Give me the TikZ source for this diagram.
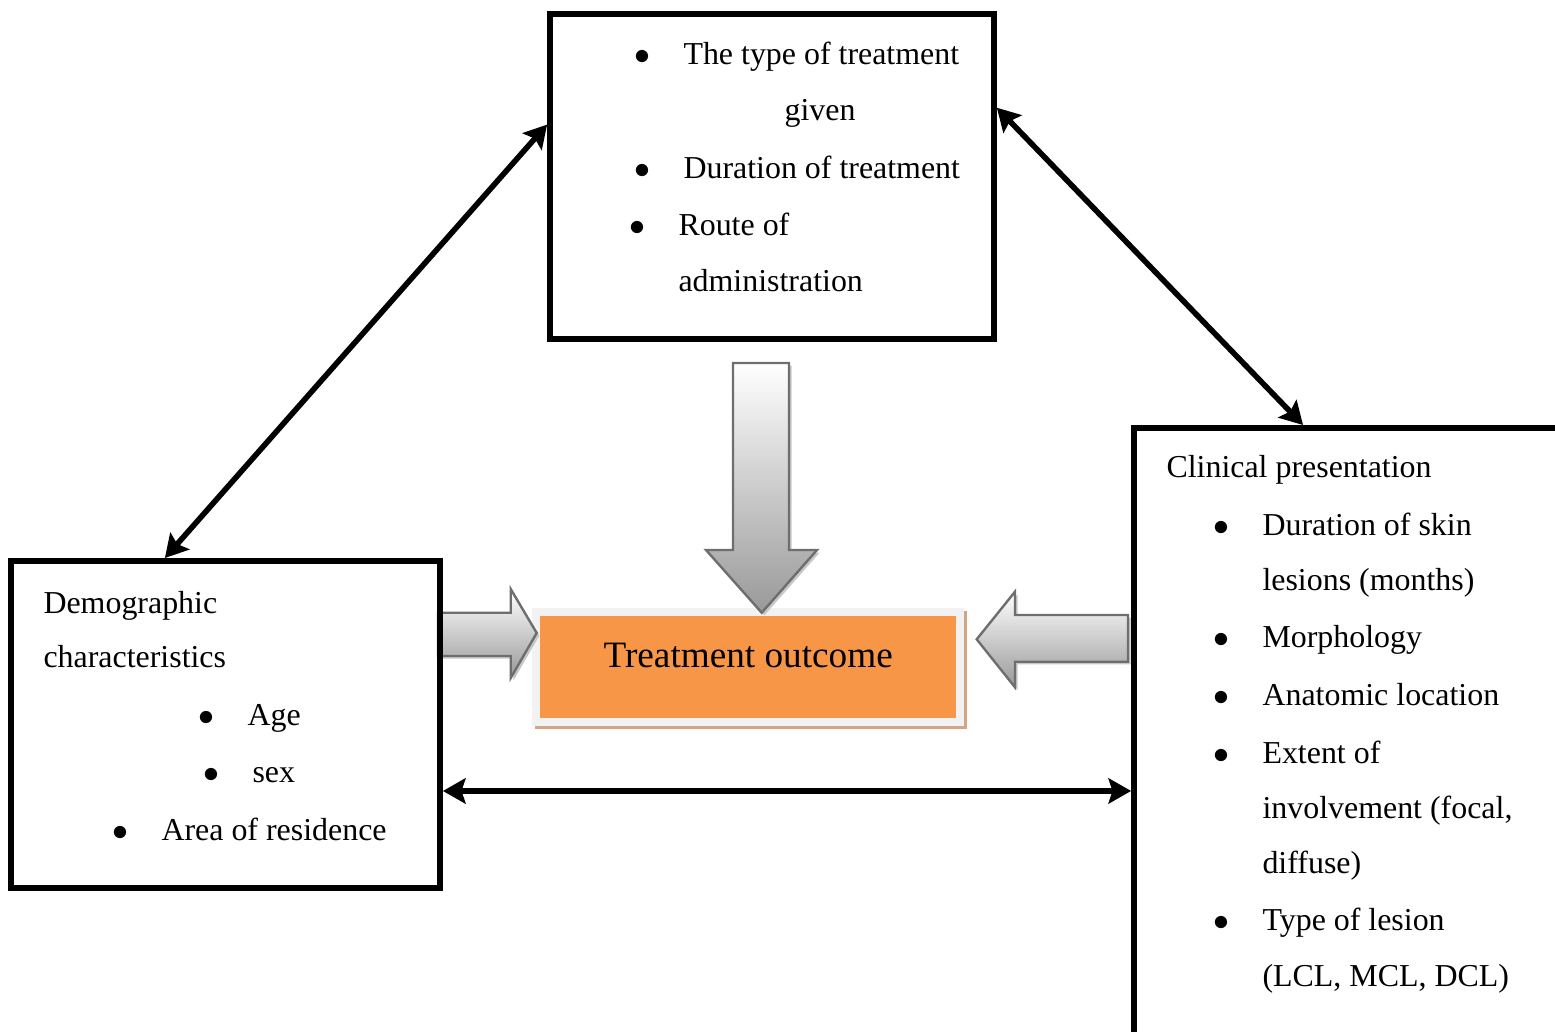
\documentclass[tikz,border=0pt]{standalone}
\usepackage{fontspec}
\setmainfont{Liberation Serif}
\usepackage{tikz}
\usetikzlibrary{arrows.meta,shadows}
\definecolor{outorange}{RGB}{247,150,70}
\definecolor{outframe}{RGB}{242,242,242}
\definecolor{outshadow}{RGB}{212,165,130}
\definecolor{blkline}{RGB}{110,110,110}
\newcommand{\bul}{\llap{$\bullet$\hspace{12.4pt}}}

\begin{document}
\begin{tikzpicture}[x=0.376pt,y=-0.376pt,>={Stealth[length=8.5pt,width=9.5pt,inset=1.5pt]}]
\tikzstyle{every node}=[font=\fontsize{12pt}{14pt}\selectfont];
\tikzstyle{factor}=[draw,line width=2.2pt,inner sep=0pt];
\tikzstyle{txt}=[anchor=base west,inner sep=0pt];
\tikzstyle{link}=[<->,line width=2.1pt];
\tikzstyle{blockarrow}=[draw=blkline,line width=0.9pt,top color=white,bottom color=black!40,
    drop shadow={shadow xshift=1pt,shadow yshift=-1pt,fill=black!22,opacity=1}];
\useasboundingbox (0,0) rectangle (1555,1032);
\clip (0,0) rectangle (1555,1032);
% outcome in the middle
    \node[fill=outorange,draw=outframe,line width=3pt,minimum width=159.6pt,minimum height=41.5pt,
        text height=9.3pt,text depth=8.8pt,
        drop shadow={shadow xshift=1.1pt,shadow yshift=-1.1pt,fill=outshadow,draw=outshadow,line width=3pt,opacity=1}]
        (out) at (748.2,667.2) {\fontsize{14pt}{16pt}\selectfont Treatment outcome};
% block arrows into the outcome
    \path[blockarrow] (733,363) -- (789,363) -- (789,550) -- (817,550) -- (761.7,612.7) -- (706,550) -- (733,550) -- cycle;
    \path[blockarrow] (438,612.7) -- (510.7,612.7) -- (510.7,589) -- (536.7,633) -- (510.7,678) -- (510.7,656) -- (438,656) -- cycle;
    \path[blockarrow] (1128,615) -- (1015,615) -- (1015,591.7) -- (976.7,639.3) -- (1015,687.3) -- (1015,661.7) -- (1128,661.7) -- cycle;
% boxes
    \node[factor,minimum width=166.9pt,minimum height=122.2pt] (treat) at (772,176.5) {};
    \node[factor,minimum width=161.3pt,minimum height=123pt] (demo) at (225.5,724.5) {};
    \node[factor,minimum width=175.2pt,minimum height=245.2pt] (clin) at (1367,754) {};
% treatment texts
    \node[txt] (t1) at (683,65) {\bul The type of treatment};
    \node[txt,anchor=base] (t2) at (820,121) {given};
    \node[txt] (t3) at (683,178) {\bul Duration of treatment};
    \node[txt] (t4) at (678,235) {\bul Route of};
    \node[txt] (t5) at (678,291) {administration};
% demographic texts
    \node[txt] (d1) at (43,613) {Demographic};
    \node[txt] (d2) at (43,667) {characteristics};
    \node[txt] (d3) at (247,725) {\bul Age};
    \node[txt] (d4) at (252,782) {\bul sex};
    \node[txt] (d5) at (161,840) {\bul Area of residence};
% clinical texts
    \node[txt] (c1) at (1166,477) {Clinical presentation};
    \node[txt] (c2) at (1262,535) {\bul Duration of skin};
    \node[txt] (c3) at (1262,590) {lesions (months)};
    \node[txt] (c4) at (1262,647) {\bul Morphology};
    \node[txt] (c5) at (1262,705) {\bul Anatomic location};
    \node[txt] (c6) at (1262,763) {\bul Extent of};
    \node[txt] (c7) at (1262,818) {involvement (focal,};
    \node[txt] (c8) at (1262,873) {diffuse)};
    \node[txt] (c9) at (1262,930) {\bul Type of lesion};
    \node[txt] (c10) at (1262,986) {(LCL, MCL, DCL)};
% links
    \draw[link] (treat.167.1) -- (demo.110.6);
    \draw[link] (treat.17.2) -- (clin.101.3);
    \draw[link] (demo.-17.5) -- (demo.-17.5 -| clin.west);
\end{tikzpicture}
\end{document}
